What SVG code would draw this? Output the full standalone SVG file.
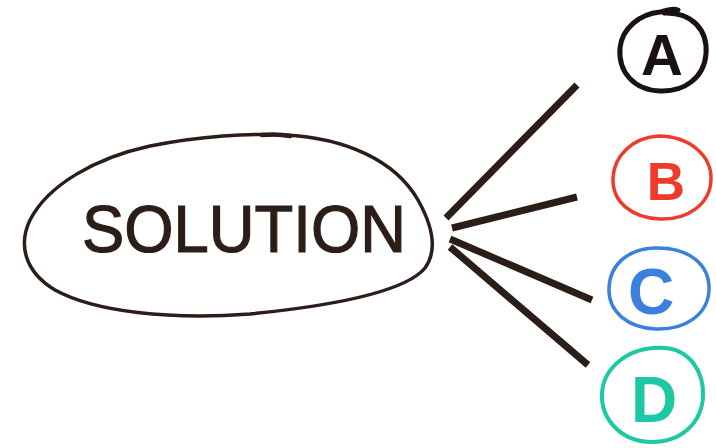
<svg xmlns="http://www.w3.org/2000/svg" width="716" height="448" viewBox="0 0 716 448">
<style>
.ink{fill:none;stroke-linecap:round;stroke-linejoin:round}
.lbl{font-family:"Liberation Sans","DejaVu Sans",sans-serif;text-anchor:middle}
.conn{stroke:#2b1d17;stroke-width:7;stroke-linecap:butt;fill:none}
</style>
<rect width="716" height="448" fill="#ffffff"/>
<g id="solution">
<path class="ink" stroke="#2b1d17" stroke-width="3.5" d="M150,146 C200,136 250,133 285,135 C345,138 395,160 418,200 C432,225 438,250 425,268 C405,292 330,306 250,314 C170,320 95,312 55,290 C25,272 18,245 30,220 C48,185 95,158 150,146 Z"/>
<path class="ink" stroke="#2b1d17" stroke-width="4.5" d="M262,135 C272,134 280,134 290,136"/>
<text class="lbl" x="244" y="252" font-size="66" fill="#2b1d17" stroke="#2b1d17" stroke-width="1.2" textLength="324" lengthAdjust="spacingAndGlyphs">SOLUTION</text>
</g>
<g id="connectors">
<line class="conn" x1="446" y1="218" x2="577" y2="85"/>
<line class="conn" x1="452" y1="228" x2="577" y2="197"/>
<line class="conn" x1="450" y1="239" x2="592" y2="300"/>
<line class="conn" x1="450" y1="247" x2="588" y2="365"/>
</g>
<g id="A">
<path class="ink" stroke="#1a1210" stroke-width="5" d="M664,13 C692,12 708,30 706,54 C704,78 684,92 660,91 C634,90 618,72 620,48 C622,28 640,14 660,12 C668,10 672,8 678,10"/>
<text class="lbl" x="662" y="75" font-size="58" font-weight="bold" fill="#1a1210">A</text>
</g>
<g id="B">
<path class="ink" stroke="#ef3b2c" stroke-width="3.5" d="M658,136 C690,136 712,156 711,180 C710,204 688,220 660,219 C632,218 612,202 613,178 C614,156 632,138 658,136 Z"/>
<text class="lbl" x="666" y="200" font-size="53" font-weight="bold" fill="#ef3b2c">B</text>
</g>
<g id="C">
<path class="ink" stroke="#3a80dc" stroke-width="3.5" d="M655,248 C688,247 710,264 709,290 C708,314 686,330 656,329 C628,328 608,312 609,288 C610,264 628,249 655,248 Z"/>
<text class="lbl" x="651" y="314" font-size="64" font-weight="bold" fill="#3a80dc">C</text>
</g>
<g id="D">
<path class="ink" stroke="#1ec8a4" stroke-width="4" d="M665,348 C690,350 704,372 703,396 C702,422 682,442 652,442 C622,442 601,420 602,394 C603,368 628,346 665,348 Z"/>
<text class="lbl" x="654" y="422" font-size="64" font-weight="bold" fill="#1ec8a4">D</text>
</g>
</svg>
